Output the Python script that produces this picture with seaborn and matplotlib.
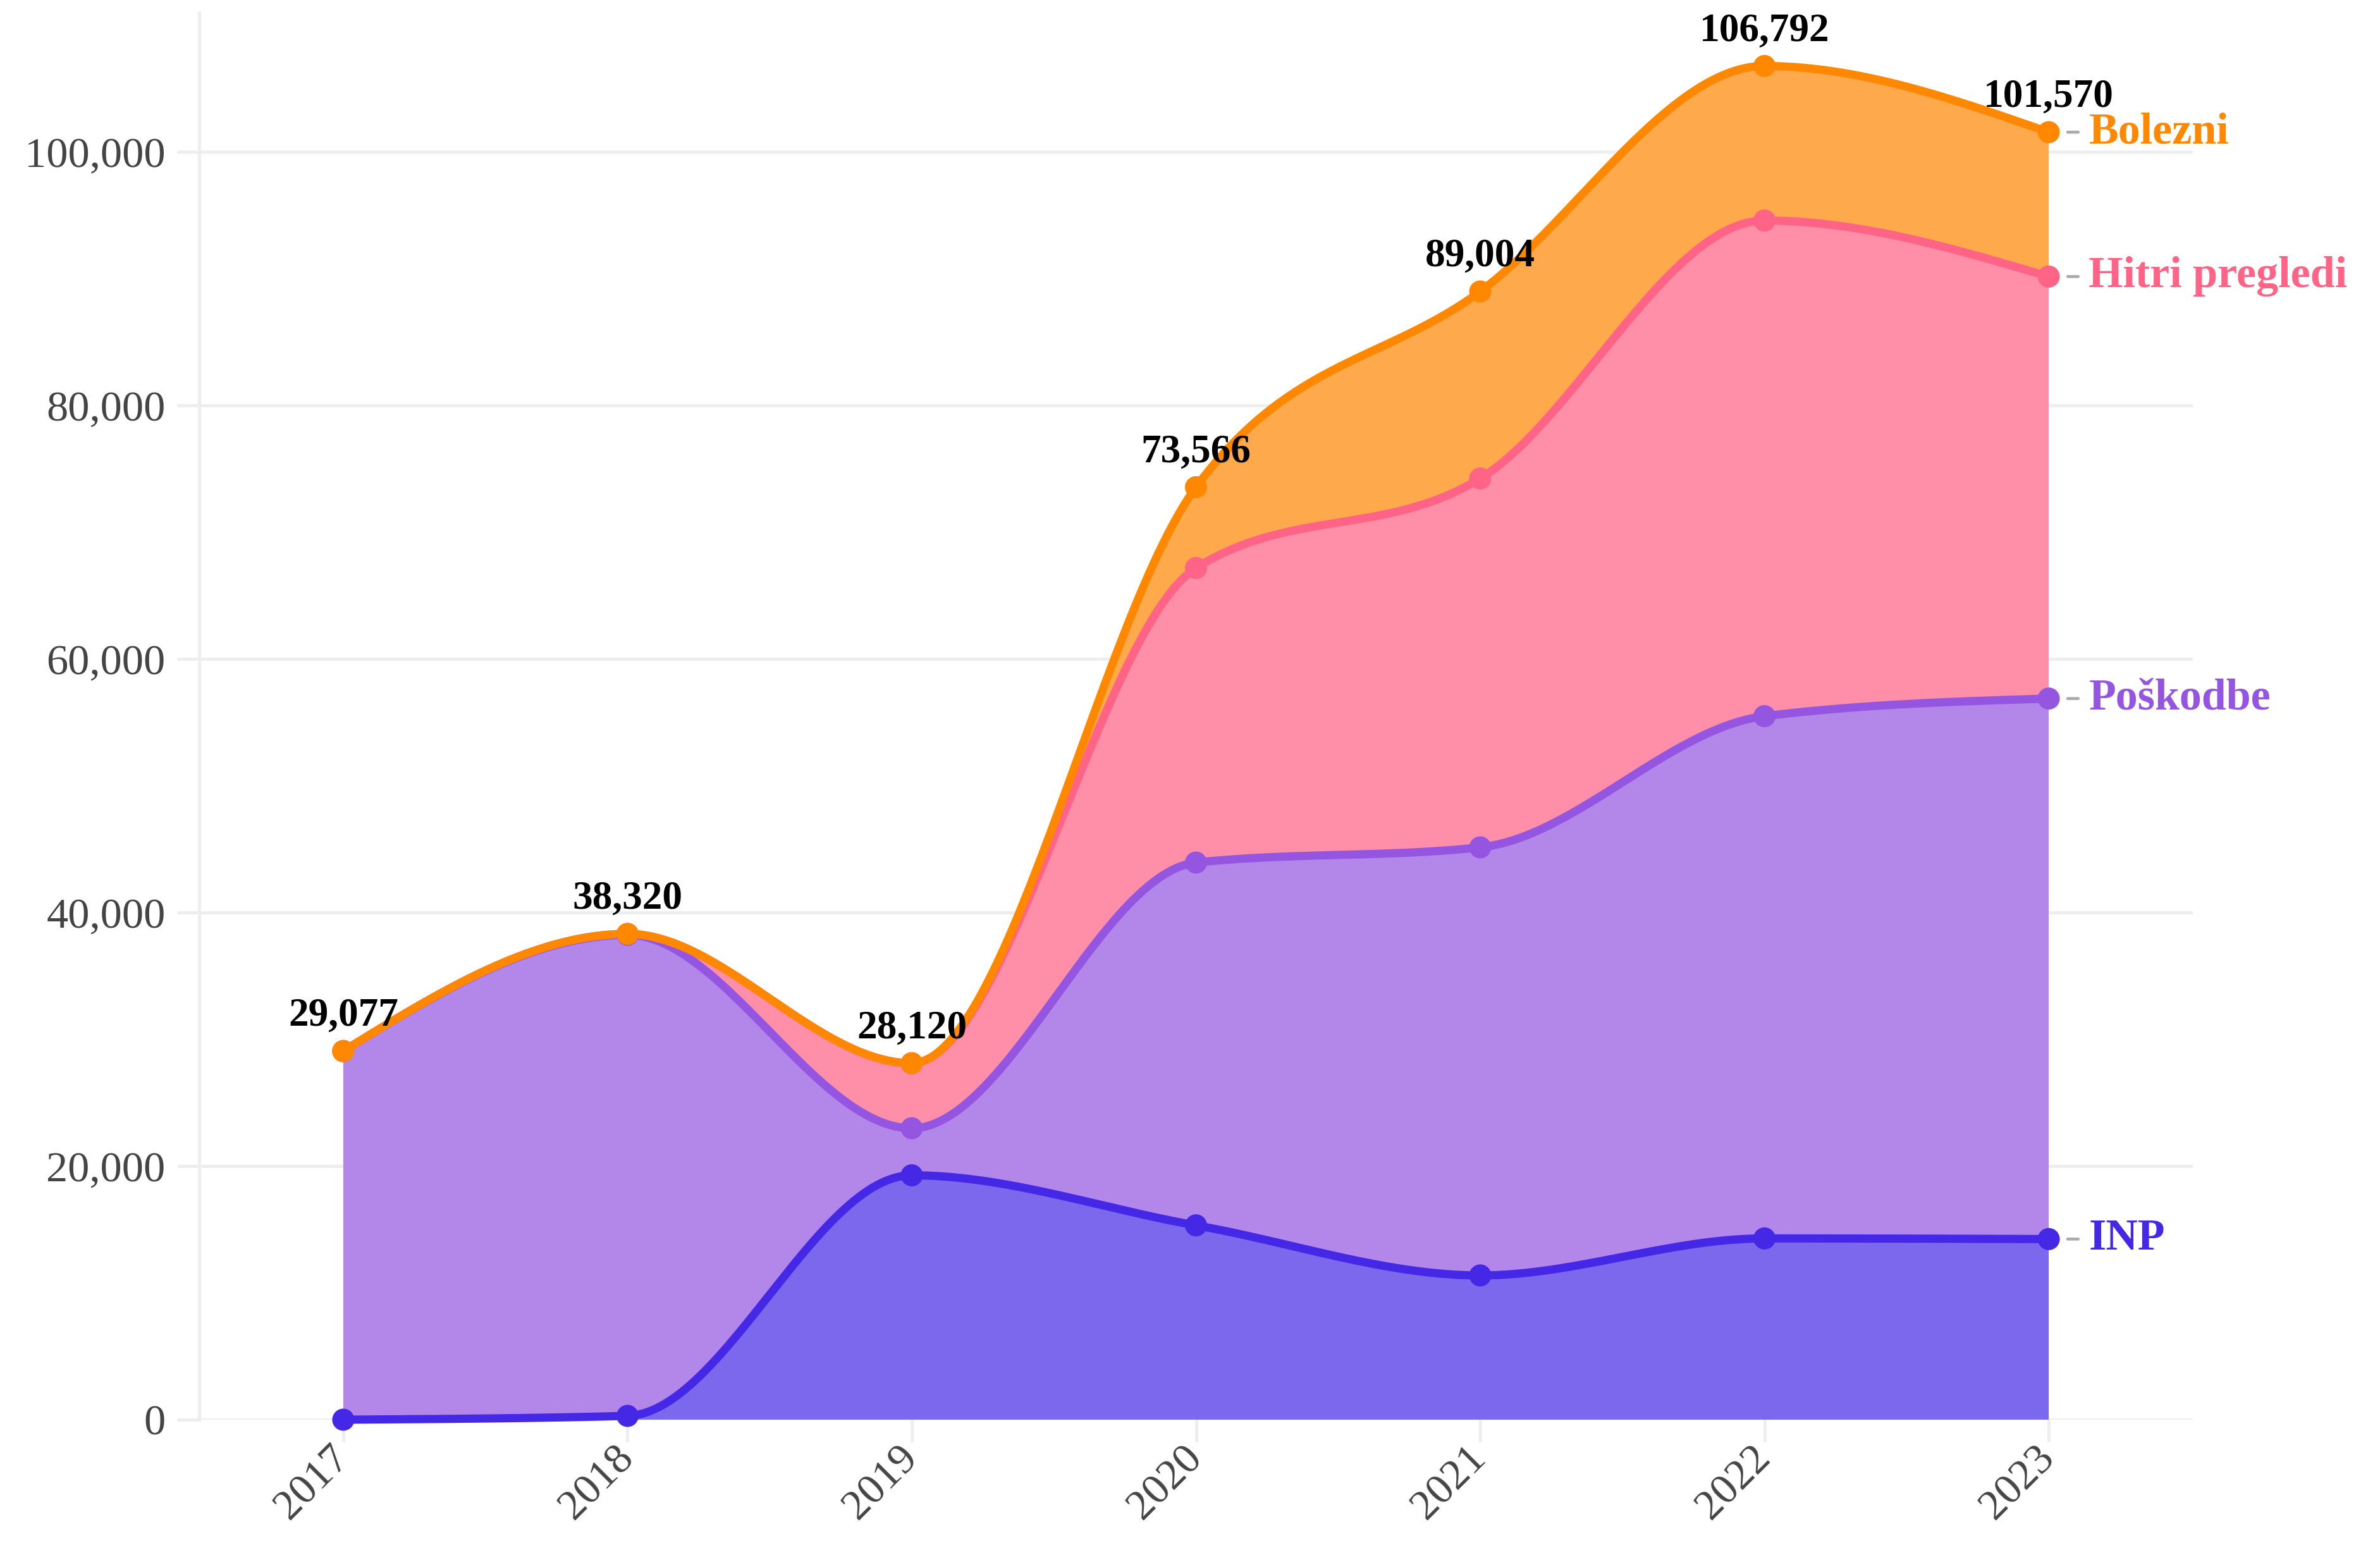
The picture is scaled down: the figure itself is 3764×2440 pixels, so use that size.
import numpy as np
import pandas as pd
import matplotlib
matplotlib.use("Agg")
import matplotlib.pyplot as plt
import seaborn as sns

# data
years = [2017, 2018, 2019, 2020, 2021, 2022, 2023]
series_names = ["INP", "Poškodbe", "Hitri pregledi", "Bolezni"]
inp = [0, 300, 19280, 15330, 11380, 14300, 14250]
poskodbe = [29077, 37950, 3710, 28620, 33770, 41200, 42640]
hitri = [0, 70, 5130, 23240, 29100, 39100, 33290]
bolezni = [0, 0, 0, 6376, 14754, 12192, 11390]
totals = [29077, 38320, 28120, 73566, 89004, 106792, 101570]

line_colors = ["#4527E6", "#9455E0", "#FF6385", "#FF8800"]
fill_colors = ["#7B68EC", "#B387EA", "#FF8FA8", "#FFA94D"]

sns.set_theme(style="white")
plt.rcParams["font.family"] = ["Liberation Serif", "DejaVu Serif"]

fig = plt.figure(figsize=(3764 / 240, 2440 / 240), dpi=240)
ax = fig.add_axes([315 / 3764, 1 - 2245 / 2440, (3468 - 315) / 3764, (2245 - 20) / 2440])
ax.set_xlim(2016.493, 2023.507)
ax.set_ylim(0, 111000)

grid_c = "#EEEEEE"
ax.set_yticks(range(0, 100001, 20000))
ax.set_yticklabels([f"{v:,}" for v in range(0, 100001, 20000)])
ax.set_xticks(years)
ax.set_xticklabels([str(y) for y in years])
ax.grid(axis="y", color=grid_c, lw=1.5)
ax.grid(axis="x", visible=False)
ax.set_axisbelow(True)
for s in ["top", "right", "bottom"]:
    ax.spines[s].set_visible(False)
ax.spines["left"].set_color(grid_c)
ax.spines["left"].set_linewidth(1.6)
ax.tick_params(axis="y", length=10.5, width=1.5, color=grid_c, labelsize=20.5,
               labelcolor="#444444", pad=5.5, left=True)
ax.tick_params(axis="x", length=10.5, width=1.5, color=grid_c, labelsize=20.5,
               labelcolor="#444444", pad=5, bottom=True)
for lab in ax.get_xticklabels():
    lab.set_rotation(45)
    lab.set_ha("right")
    lab.set_va("center")
    lab.set_rotation_mode("anchor")


def monotone(xs, ys, n=60):
    # monotone cubic (d3 curveMonotoneX style)
    xs = np.asarray(xs, dtype=float)
    ys = np.asarray(ys, dtype=float)
    h = np.diff(xs)
    s = np.diff(ys) / h
    m = np.zeros(len(xs))
    for i in range(1, len(xs) - 1):
        p = (s[i - 1] * h[i] + s[i] * h[i - 1]) / (h[i - 1] + h[i])
        m[i] = (np.sign(s[i - 1]) + np.sign(s[i])) * min(abs(s[i - 1]), abs(s[i]), 0.5 * abs(p))
    m[0] = (3 * s[0] - m[1]) / 2
    m[-1] = (3 * s[-1] - m[-2]) / 2
    t = np.linspace(0, 1, n)
    ox, oy = [], []
    for i in range(len(xs) - 1):
        dx = h[i] / 3
        p0 = np.array([xs[i], ys[i]])
        p1 = np.array([xs[i] + dx, ys[i] + dx * m[i]])
        p2 = np.array([xs[i + 1] - dx, ys[i + 1] - dx * m[i + 1]])
        p3 = np.array([xs[i + 1], ys[i + 1]])
        tt = t[:, None] if i == 0 else t[1:, None]
        seg = ((1 - tt) ** 3 * p0 + 3 * (1 - tt) ** 2 * tt * p1
               + 3 * (1 - tt) * tt ** 2 * p2 + tt ** 3 * p3)
        ox.append(seg[:, 0])
        oy.append(seg[:, 1])
    return np.concatenate(ox), np.concatenate(oy)


stack = np.cumsum(np.array([inp, poskodbe, hitri, bolezni], dtype=float), axis=0)
curves = [monotone(years, row) for row in stack]

# fills
prev = None
for i, (cx, cy) in enumerate(curves):
    if prev is None:
        px_, py_ = np.array([cx[-1], cx[0]]), np.array([0, 0])
    else:
        px_, py_ = prev[0][::-1], prev[1][::-1]
    ax.fill(np.concatenate([cx, px_]), np.concatenate([cy, py_]),
            color=fill_colors[i], lw=0, zorder=2)
    prev = (cx, cy)

# lines
for i, (cx, cy) in enumerate(curves):
    ax.plot(cx, cy, color=line_colors[i], lw=3.9, zorder=3, clip_on=False,
            solid_capstyle="round")

# markers
pts_df = pd.DataFrame({
    "year": np.tile(years, 4),
    "value": stack.ravel(),
    "series": np.repeat(series_names, len(years)),
})
sns.scatterplot(data=pts_df, x="year", y="value", hue="series",
                palette=dict(zip(series_names, line_colors)), s=110,
                edgecolor="none", legend=False, ax=ax, zorder=4, clip_on=False)
ax.set_xlabel("")
ax.set_ylabel("")

# total labels
for x, v in zip(years, totals):
    ax.annotate(f"{v:,}", xy=(x, v), xytext=(0, 12), textcoords="offset points",
                ha="center", va="baseline", fontsize=19, fontweight="bold",
                color="black", zorder=5)

# end labels
for i, name in enumerate(series_names):
    v = stack[i, -1]
    ax.annotate("", xy=(years[-1], v), xytext=(14, 0), textcoords="offset points",
                arrowprops=dict(arrowstyle="-", color="#AAAAAA", lw=1.4,
                                shrinkA=0, shrinkB=9), annotation_clip=False)
    ax.annotate(name, xy=(years[-1], v), xytext=(19, 0), textcoords="offset points",
                ha="left", va="center", fontsize=21, fontweight="bold",
                color=line_colors[i], annotation_clip=False)

fig.savefig("out.png", dpi=240)
